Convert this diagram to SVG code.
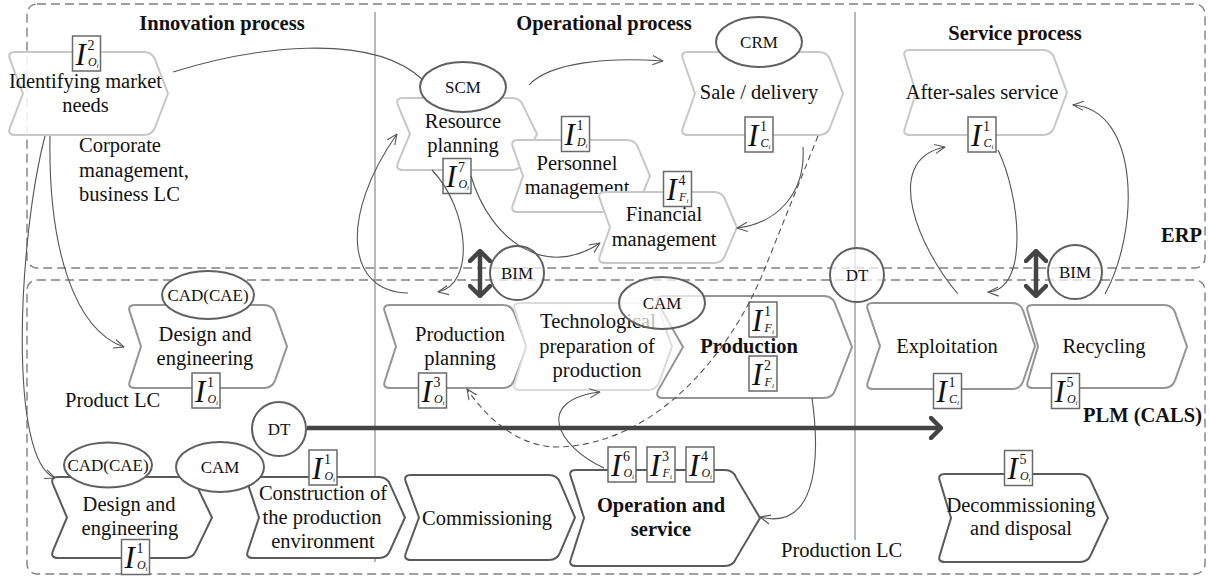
<svg xmlns="http://www.w3.org/2000/svg" width="1210" height="576" viewBox="0 0 1210 576">
<defs>
<style>
text{font-family:'Liberation Serif','Times New Roman',serif;fill:#111}
.hdr{font-weight:bold;font-size:20.5px;text-anchor:middle}
.lbl{font-size:20.5px;text-anchor:middle}
.bold{font-weight:bold}
.free{font-size:20.5px}
.freeb{font-weight:bold;font-size:20.5px;text-anchor:end}
.etx{font-size:17px;text-anchor:middle}
.s1{fill:#fff;stroke:#c8c8c8;stroke-width:2}
.s2{fill:#fff;stroke:#959595;stroke-width:2}
.s2l{fill:#fff;stroke:#dcdcdc;stroke-width:2}
.s3{fill:#fff;stroke:#5a5a5a;stroke-width:2}
.el{fill:#fff;stroke:#606060;stroke-width:2}
.elt{fill:#fff;fill-opacity:0.7;stroke:#606060;stroke-width:2}
.ix rect{fill:#fff;stroke:#6a6a6a;stroke-width:1.5}
.iI{font-style:italic;font-size:31px}
.isup{font-size:14px}
.isub{font-style:italic;font-size:12px}
.isubi{font-style:italic;font-size:7px}
.con{fill:none;stroke:#555;stroke-width:1.1;marker-end:url(#ah)}
.dsh{stroke-dasharray:6 4}
.frame{fill:none;stroke:#808080;stroke-width:1.4;stroke-dasharray:9 5}
.vl{stroke:#a0a0a0;stroke-width:1.5}
.thick{fill:none;stroke:#444;stroke-width:4.5}
</style>
<marker id="ah" viewBox="0 0 10 10" refX="9.5" refY="5" markerWidth="11" markerHeight="11" markerUnits="userSpaceOnUse" orient="auto">
<path d="M0,0.8 L9.5,5 L0,9.2" fill="none" stroke="#555" stroke-width="1"/>
</marker>
<marker id="ahT" viewBox="0 0 14 24" refX="12" refY="12" markerWidth="14" markerHeight="24" markerUnits="userSpaceOnUse" orient="auto-start-reverse">
<path d="M2,2 L12,12 L2,22" fill="none" stroke="#444" stroke-width="4.5" stroke-linecap="round" stroke-linejoin="round"/>
</marker>
</defs>
<rect width="1210" height="576" fill="#fff"/>
<g id="background">
<rect class="frame" x="27" y="4" width="1178" height="264" rx="10"/>
<rect class="frame" x="27" y="280" width="1178" height="294" rx="10"/>
<line class="vl" x1="375" y1="12" x2="375" y2="562"/>
<line class="vl" x1="855" y1="12" x2="855" y2="540"/>
<text class="hdr" x="222" y="30">Innovation process</text>
<text class="hdr" x="604" y="30">Operational process</text>
<text class="hdr" x="1015" y="40">Service process</text>
<text class="freeb" x="1202" y="242">ERP</text>
<text class="freeb" x="1202" y="422">PLM (CALS)</text>
<text class="free" x="79" y="152">Corporate</text>
<text class="free" x="79" y="177">management,</text>
<text class="free" x="79" y="201">business LC</text>
<text class="free" x="65" y="407">Product LC</text>
<text class="free" x="781" y="557">Production LC</text>
</g>
<g id="n-identifying">
<path class="s1" fill-opacity="0.85" d="M15 52 h129 q8 0 11 7.4 l13 34.1 l-13 34.1 q-3 7.4 -11 7.4 h-129 q-8 0 -5 -7.4 l13 -34.1 l-13 -34.1 q-3 -7.4 5 -7.4z"/>
<text class="lbl" x="85.5" y="88">Identifying market</text>
<text class="lbl" x="85.5" y="112">needs</text>
<g class="ix" transform="translate(86.5 53.5)"><rect x="-14" y="-17.5" width="28" height="35"/><text class="iI" x="-11" y="11">I</text><text class="isup" x="1" y="-4">2</text><text class="isub" x="1.5" y="12">O</text><text class="isubi" x="10" y="14">i</text></g>
</g>
<g id="n-sale">
<path class="s1" d="M688 52 h131 q8 0 11 7.4 l13 34.1 l-13 34.1 q-3 7.4 -11 7.4 h-131 q-8 0 -5 -7.4 l12 -34.1 l-12 -34.1 q-3 -7.4 5 -7.4z"/>
<text class="lbl" x="759" y="99">Sale / delivery</text>
<ellipse class="el" cx="759" cy="42" rx="43" ry="25"/>
<text class="etx" x="759" y="48">CRM</text>
<g class="ix" transform="translate(759 134.5)"><rect x="-14" y="-17.5" width="28" height="35"/><text class="iI" x="-11" y="11">I</text><text class="isup" x="1" y="-4">1</text><text class="isub" x="1.5" y="12">C</text><text class="isubi" x="9.5" y="14">i</text></g>
</g>
<g id="n-resource">
<path class="s1" d="M403 98 h109 q8 0 11 7.4 l14 28.6 l-14 28.6 q-3 7.4 -11 7.4 h-109 q-8 0 -5 -7.4 l12 -28.6 l-12 -28.6 q-3 -7.4 5 -7.4z"/>
<text class="lbl" x="463" y="128">Resource</text>
<text class="lbl" x="463" y="152">planning</text>
<ellipse class="el" cx="463" cy="87" rx="43" ry="25"/>
<text class="etx" x="463" y="93">SCM</text>
<g class="ix" transform="translate(457 176)"><rect x="-14" y="-17.5" width="28" height="35"/><text class="iI" x="-11" y="11">I</text><text class="isup" x="1" y="-4">7</text><text class="isub" x="1.5" y="12">O</text><text class="isubi" x="10" y="14">i</text></g>
</g>
<g id="n-personnel">
<path class="s1" d="M518 140 h109 q8 0 11 7.4 l12 28.6 l-12 28.6 q-3 7.4 -11 7.4 h-109 q-8 0 -5 -7.4 l10 -28.6 l-10 -28.6 q-3 -7.4 5 -7.4z"/>
<text class="lbl" x="577" y="170">Personnel</text>
<text class="lbl" x="577" y="194">management</text>
<g class="ix" transform="translate(575.5 134)"><rect x="-14" y="-17.5" width="28" height="35"/><text class="iI" x="-11" y="11">I</text><text class="isup" x="1" y="-4">1</text><text class="isub" x="1.5" y="12">D</text><text class="isubi" x="10" y="14">i</text></g>
</g>
<g id="n-financial">
<path class="s1" d="M605 192 h109 q8 0 11 7.4 l12 28.1 l-12 28.1 q-3 7.4 -11 7.4 h-109 q-8 0 -5 -7.4 l10 -28.1 l-10 -28.1 q-3 -7.4 5 -7.4z"/>
<text class="lbl" x="664" y="221">Financial</text>
<text class="lbl" x="664" y="246">management</text>
<g class="ix" transform="translate(677.5 189)"><rect x="-14" y="-17.5" width="28" height="35"/><text class="iI" x="-11" y="11">I</text><text class="isup" x="1" y="-4">4</text><text class="isub" x="1.5" y="12">F</text><text class="isubi" x="9" y="14">i</text></g>
</g>
<g id="n-aftersales">
<path class="s1" d="M910 50 h133 q8 0 11 7.4 l13 35.1 l-13 35.1 q-3 7.4 -11 7.4 h-133 q-8 0 -5 -7.4 l11 -35.1 l-11 -35.1 q-3 -7.4 5 -7.4z"/>
<text class="lbl" x="982" y="99">After-sales service</text>
<g class="ix" transform="translate(982 134.5)"><rect x="-14" y="-17.5" width="28" height="35"/><text class="iI" x="-11" y="11">I</text><text class="isup" x="1" y="-4">1</text><text class="isub" x="1.5" y="12">C</text><text class="isubi" x="9.5" y="14">i</text></g>
</g>
<g id="n-design-upper">
<path class="s2" d="M135 305 h129 q8 0 11 7.4 l12 34.1 l-12 34.1 q-3 7.4 -11 7.4 h-129 q-8 0 -5 -7.4 l11 -34.1 l-11 -34.1 q-3 -7.4 5 -7.4z"/>
<text class="lbl" x="205" y="341">Design and</text>
<text class="lbl" x="205" y="365">engineering</text>
<ellipse class="el" cx="208" cy="295" rx="46" ry="24"/>
<text class="etx" x="208" y="301">CAD(CAE)</text>
<g class="ix" transform="translate(206 390.5)"><rect x="-14" y="-17.5" width="28" height="35"/><text class="iI" x="-11" y="11">I</text><text class="isup" x="1" y="-4">1</text><text class="isub" x="1.5" y="12">O</text><text class="isubi" x="10" y="14">i</text></g>
</g>
<g id="n-prodplanning">
<path class="s2" d="M390 305 h113 q8 0 11 7.4 l13 34.1 l-13 34.1 q-3 7.4 -11 7.4 h-113 q-8 0 -5 -7.4 l11 -34.1 l-11 -34.1 q-3 -7.4 5 -7.4z"/>
<text class="lbl" x="460" y="341">Production</text>
<text class="lbl" x="460" y="365">planning</text>
<g class="ix" transform="translate(432.5 390.5)"><rect x="-14" y="-17.5" width="28" height="35"/><text class="iI" x="-11" y="11">I</text><text class="isup" x="1" y="-4">3</text><text class="isub" x="1.5" y="12">O</text><text class="isubi" x="10" y="14">i</text></g>
</g>
<g id="n-techprep">
<path class="s2l" d="M520 303 h128 q8 0 11 7.4 l13 36.1 l-13 36.1 q-3 7.4 -11 7.4 h-128 q-8 0 -5 -7.4 l11 -36.1 l-11 -36.1 q-3 -7.4 5 -7.4z"/>
<text class="lbl" x="598" y="328">Technological</text>
<text class="lbl" x="597" y="353">preparation of</text>
<text class="lbl" x="597" y="377">production</text>
</g>
<g id="n-production">
<path class="s2" d="M663 296 h161 q8 0 11 7.4 l17 43.6 l-17 43.6 q-3 7.4 -11 7.4 h-161 q-8 0 -5 -7.4 l25 -43.6 l-25 -43.6 q-3 -7.4 5 -7.4z"/>
<text class="lbl bold" x="749" y="353">Production</text>
<ellipse class="elt" cx="662" cy="303" rx="43" ry="26"/>
<text class="etx" x="662" y="309">CAM</text>
<g class="ix" transform="translate(763 319.5)"><rect x="-14" y="-17.5" width="28" height="35"/><text class="iI" x="-11" y="11">I</text><text class="isup" x="1" y="-4">1</text><text class="isub" x="1.5" y="12">F</text><text class="isubi" x="9" y="14">i</text></g>
<g class="ix" transform="translate(763 373.5)"><rect x="-14" y="-17.5" width="28" height="35"/><text class="iI" x="-11" y="11">I</text><text class="isup" x="1" y="-4">2</text><text class="isub" x="1.5" y="12">F</text><text class="isubi" x="9" y="14">i</text></g>
</g>
<g id="n-exploitation">
<path class="s2" d="M873 303 h139 q8 0 11 7.4 l12 35.6 l-12 35.6 q-3 7.4 -11 7.4 h-139 q-8 0 -5 -7.4 l12 -35.6 l-12 -35.6 q-3 -7.4 5 -7.4z"/>
<text class="lbl" x="947" y="353">Exploitation</text>
<g class="ix" transform="translate(947.5 391)"><rect x="-14" y="-17.5" width="28" height="35"/><text class="iI" x="-11" y="11">I</text><text class="isup" x="1" y="-4">1</text><text class="isub" x="1.5" y="12">C</text><text class="isubi" x="9.5" y="14">i</text></g>
</g>
<g id="n-recycling">
<path class="s2" d="M1033 305 h131 q8 0 11 7.4 l12 34.1 l-12 34.1 q-3 7.4 -11 7.4 h-131 q-8 0 -5 -7.4 l10 -34.1 l-10 -34.1 q-3 -7.4 5 -7.4z"/>
<text class="lbl" x="1104" y="353">Recycling</text>
<g class="ix" transform="translate(1065.5 391)"><rect x="-14" y="-17.5" width="28" height="35"/><text class="iI" x="-11" y="11">I</text><text class="isup" x="1" y="-4">5</text><text class="isub" x="1.5" y="12">O</text><text class="isubi" x="10" y="14">i</text></g>
</g>
<g id="n-design-lower">
<path class="s3" d="M58 477 h127 q8 0 11 7.4 l16 33.1 l-16 33.1 q-3 7.4 -11 7.4 h-127 q-8 0 -5 -7.4 l14 -33.1 l-14 -33.1 q-3 -7.4 5 -7.4z"/>
<text class="lbl" x="129" y="511">Design and</text>
<text class="lbl" x="130" y="535">engineering</text>
<ellipse class="el" cx="108" cy="465" rx="44" ry="22.5"/>
<text class="etx" x="108" y="471">CAD(CAE)</text>
<g class="ix" transform="translate(135.5 557)"><rect x="-14" y="-17.5" width="28" height="35"/><text class="iI" x="-11" y="11">I</text><text class="isup" x="1" y="-4">1</text><text class="isub" x="1.5" y="12">O</text><text class="isubi" x="10" y="14">i</text></g>
</g>
<g id="n-construction">
<path class="s3" d="M253 477 h126 q8 0 11 7.4 l15 33.1 l-15 33.1 q-3 7.4 -11 7.4 h-126 q-8 0 -5 -7.4 l11 -33.1 l-11 -33.1 q-3 -7.4 5 -7.4z"/>
<text class="lbl" x="323" y="500">Construction of</text>
<text class="lbl" x="322" y="524">the production</text>
<text class="lbl" x="323" y="548">environment</text>
<ellipse class="el" cx="220" cy="467" rx="44" ry="25"/>
<text class="etx" x="220" y="473">CAM</text>
<g class="ix" transform="translate(323 467.5)"><rect x="-14" y="-17.5" width="28" height="35"/><text class="iI" x="-11" y="11">I</text><text class="isup" x="1" y="-4">1</text><text class="isub" x="1.5" y="12">O</text><text class="isubi" x="10" y="14">i</text></g>
</g>
<g id="n-commissioning">
<path class="s3" d="M411 475 h138 q8 0 11 7.4 l15 35.1 l-15 35.1 q-3 7.4 -11 7.4 h-138 q-8 0 -5 -7.4 l13 -35.1 l-13 -35.1 q-3 -7.4 5 -7.4z"/>
<text class="lbl" x="487" y="525">Commissioning</text>
</g>
<g id="n-operation">
<path class="s3" d="M576 470 h149 q8 0 11 7.4 l24 40.6 l-24 40.6 q-3 7.4 -11 7.4 h-149 q-8 0 -5 -7.4 l13 -40.6 l-13 -40.6 q-3 -7.4 5 -7.4z"/>
<text class="lbl bold" x="661" y="512">Operation and</text>
<text class="lbl bold" x="661" y="536">service</text>
<g class="ix" transform="translate(622 464.5)"><rect x="-14" y="-17.5" width="28" height="35"/><text class="iI" x="-11" y="11">I</text><text class="isup" x="1" y="-4">6</text><text class="isub" x="1.5" y="12">O</text><text class="isubi" x="10" y="14">i</text></g>
<g class="ix" transform="translate(661 464.5)"><rect x="-14" y="-17.5" width="28" height="35"/><text class="iI" x="-11" y="11">I</text><text class="isup" x="1" y="-4">3</text><text class="isub" x="1.5" y="12">F</text><text class="isubi" x="9" y="14">i</text></g>
<g class="ix" transform="translate(700 464.5)"><rect x="-14" y="-17.5" width="28" height="35"/><text class="iI" x="-11" y="11">I</text><text class="isup" x="1" y="-4">4</text><text class="isub" x="1.5" y="12">O</text><text class="isubi" x="10" y="14">i</text></g>
</g>
<g id="n-decommissioning">
<path class="s3" d="M945 474 h135 q8 0 11 7.4 l17 36.6 l-17 36.6 q-3 7.4 -11 7.4 h-135 q-8 0 -5 -7.4 l11 -36.6 l-11 -36.6 q-3 -7.4 5 -7.4z"/>
<text class="lbl" x="1021" y="512">Decommissioning</text>
<text class="lbl" x="1021" y="535">and disposal</text>
<g class="ix" transform="translate(1018.5 468)"><rect x="-14" y="-17.5" width="28" height="35"/><text class="iI" x="-11" y="11">I</text><text class="isup" x="1" y="-4">5</text><text class="isub" x="1.5" y="12">O</text><text class="isubi" x="10" y="14">i</text></g>
</g>
<g id="n-bim-left">
<circle class="elt" cx="517" cy="273" r="27"/>
<text class="etx" x="517" y="279">BIM</text>
</g>
<g id="n-bim-right">
<circle class="elt" cx="1075" cy="272" r="27"/>
<text class="etx" x="1075" y="278">BIM</text>
</g>
<g id="n-dt-top">
<circle class="elt" cx="857" cy="275" r="27"/>
<text class="etx" x="857" y="281">DT</text>
</g>
<g id="n-dt-lower">
<circle class="el" cx="279" cy="429" r="27"/>
<text class="etx" x="279" y="435">DT</text>
</g>
<g id="connectors">
<path class="con" style="marker-end:none" d="M173 72 C250 48 370 30 423 80"/>
<path class="con" d="M529 85 C550 62 610 57 663 61"/>
<path class="con" d="M803 147 C806 195 775 224 737 228"/>
<path class="con" d="M471 176 C490 240 545 280 600 243"/>
<path class="con" d="M432 170 C470 210 475 285 438 292"/>
<path class="con" d="M408 293 C345 292 340 215 397 134"/>
<path class="con" d="M50 136 C48 250 75 330 124 347"/>
<path class="con" d="M45 136 C18 240 8 460 55 478"/>
<path class="con" d="M958 294 C920 250 880 160 945 147"/>
<path class="con" d="M998 150 C1020 195 1030 290 988 292"/>
<path class="con" d="M1105 294 C1140 230 1140 110 1073 105"/>
<path class="con dsh" d="M818 136 L765 268 C735 345 660 445 557 447 C520 447 488 420 467 389"/>
<path class="con" d="M604 468 C555 445 535 400 600 392"/>
<path class="con" d="M812 398 C822 470 812 530 760 517"/>
<path class="thick" d="M307 428 H941" marker-end="url(#ahT)"/>
<path class="thick" d="M480 251 V296" marker-start="url(#ahT)" marker-end="url(#ahT)"/>
<path class="thick" d="M1036 251 V296" marker-start="url(#ahT)" marker-end="url(#ahT)"/>
</g>
</svg>
